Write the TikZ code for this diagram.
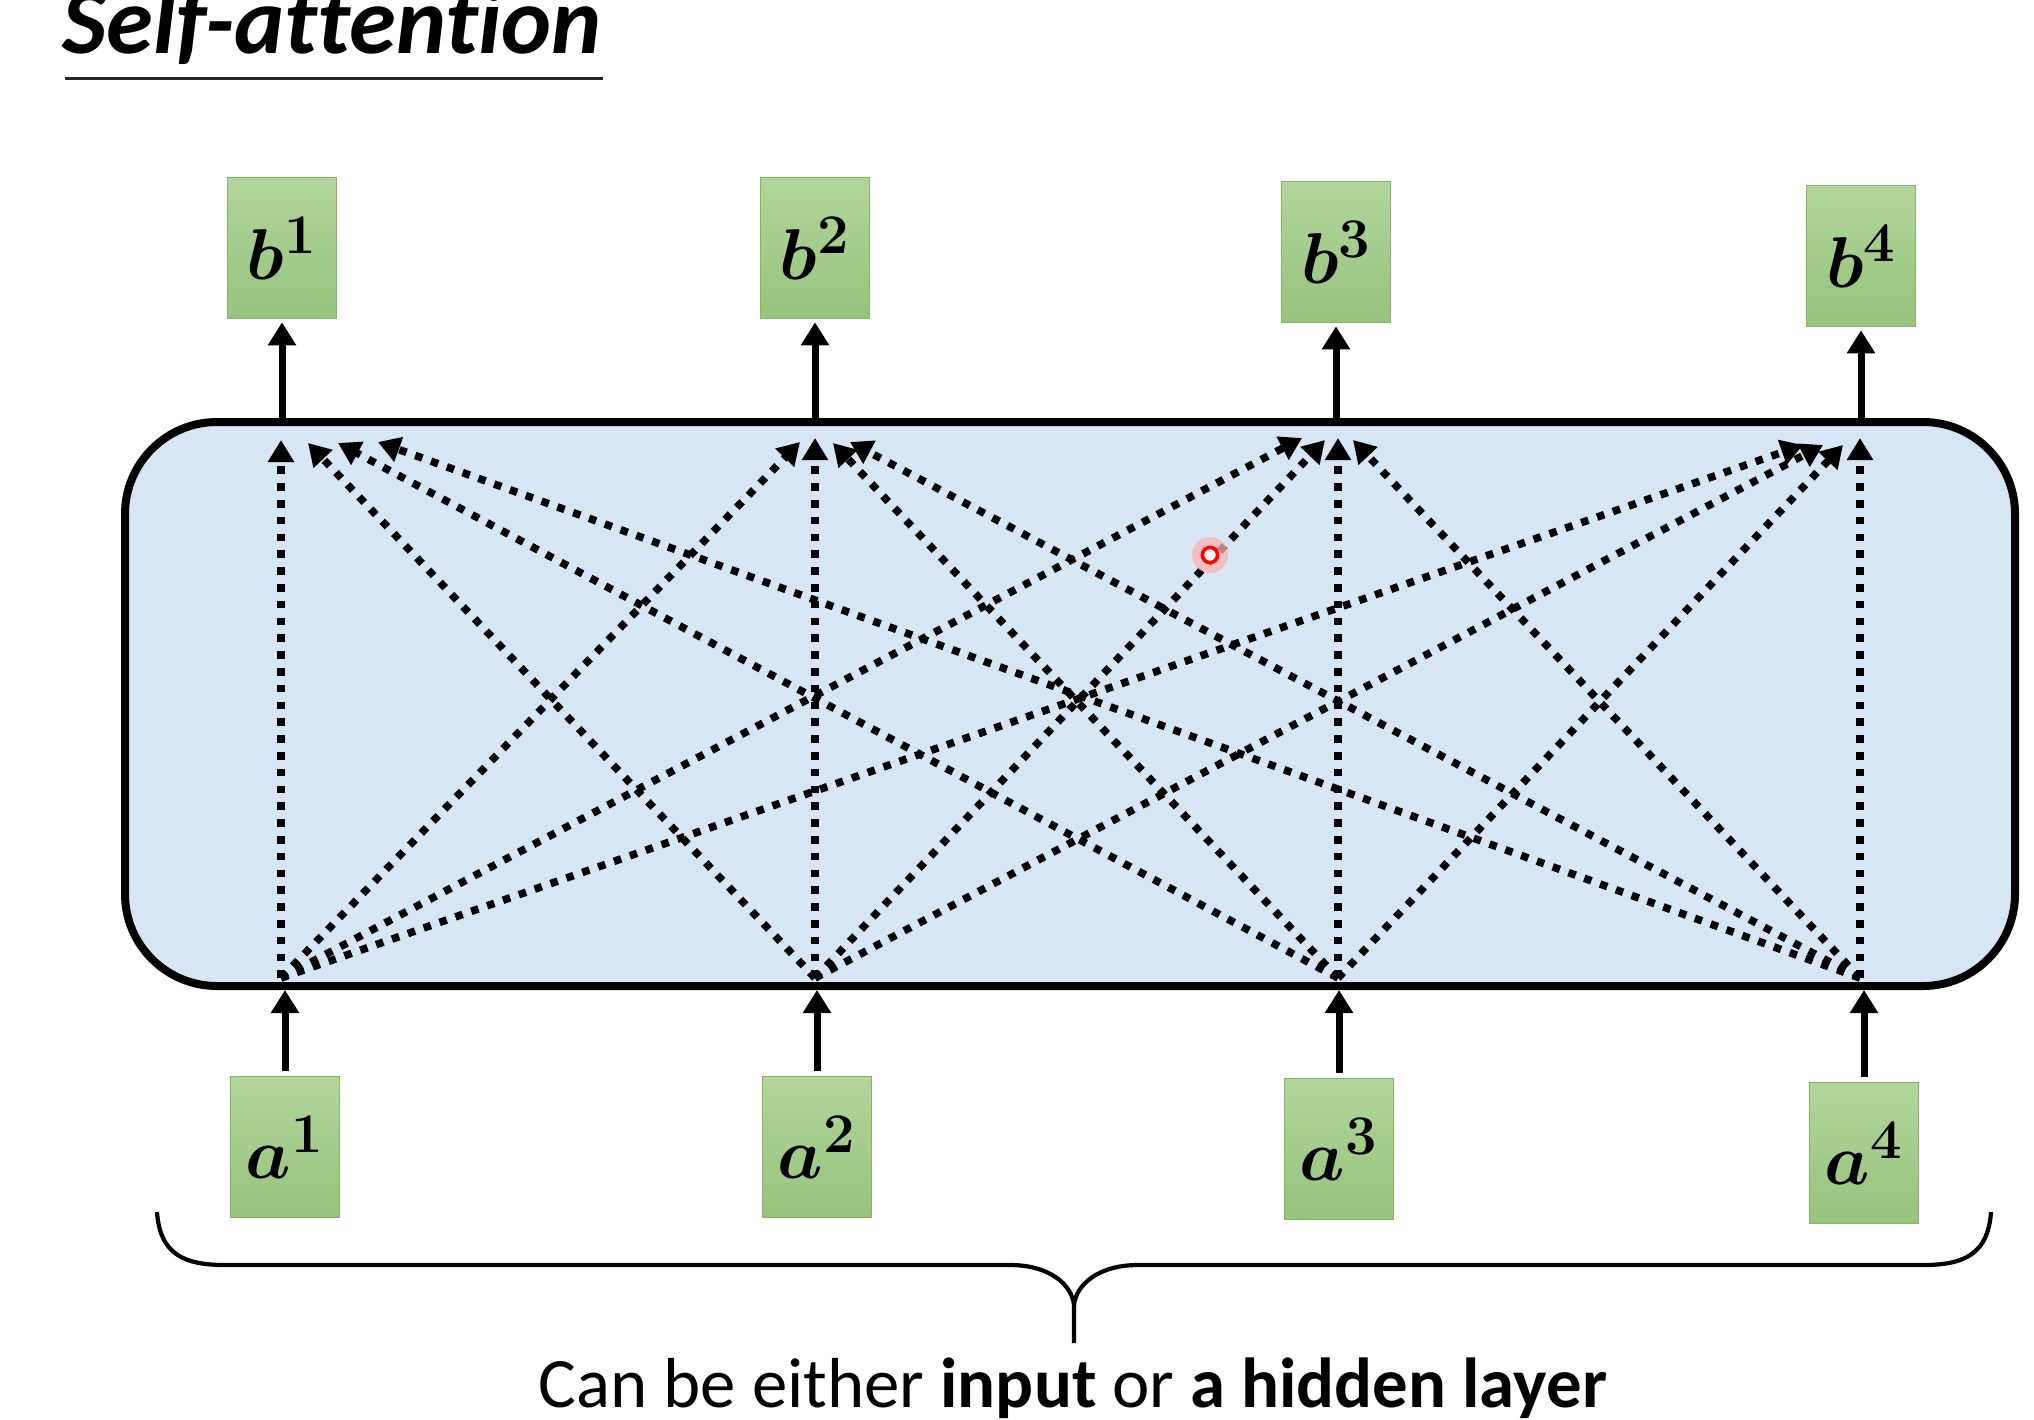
\RequirePackage{fix-cm}
\documentclass[tikz,border=0pt]{standalone}
\usepackage{fontspec}
\usepackage{amsmath,bm}
\usetikzlibrary{arrows.meta,calc}
\newfontfamily\calibri{Carlito}[Ligatures=NoCommon]
\definecolor{gtop}{RGB}{178,213,155}
\definecolor{gbot}{RGB}{150,195,125}
\definecolor{gborder}{RGB}{130,184,100}
\definecolor{attfill}{RGB}{214,230,245}
\newcommand{\supnum}[1]{\text{\fontsize{28}{28}\selectfont\bfseries #1}}
\tikzset{
  vecbox/.style={draw=gborder, line width=0.8pt, top color=gtop, bottom color=gbot,
    minimum width=54.5pt, minimum height=70.5pt, inner sep=0pt,
    font=\fontsize{36}{40}\selectfont},
  attbox/.style={draw=black, line width=4pt, fill=attfill, rounded corners=46pt,
    minimum width=945pt, minimum height=282pt, inner sep=0pt},
  solidarr/.style={line width=3.5pt, -{Triangle[length=11.5pt,width=13.5pt]}},
  dotarr/.style={line width=3.8pt, dash pattern=on 3.8pt off 4.6pt,
    -{Triangle[length=11pt,width=12.5pt]}},
  uline/.style={line width=1.5pt, black!85},
  bracestyle/.style={line width=2.1pt, line join=round}
}
\begin{document}
\begin{tikzpicture}[x=0.5pt, y=-0.5pt]
\useasboundingbox (0,0) rectangle (2034,1419);
\fill[white] (0,0) rectangle (2034,1419);

% title
\node[anchor=base west, inner sep=0pt, font=\calibri\bfseries\itshape\fontsize{47.5}{52}\selectfont] (title) at (62,53) {Self-attention};
\draw[uline] (65,78) -- (603,78);

% attention layer
\node[attbox] (att) at (1070,704) {};

% outputs
\node[vecbox] (b1) at (282,248) {$\bm{b}^{\supnum{1}}$};
\node[vecbox] (b2) at (815,248) {$\bm{b}^{\supnum{2}}$};
\node[vecbox] (b3) at (1336,252) {$\bm{b}^{\supnum{3}}$};
\node[vecbox] (b4) at (1861,256) {$\bm{b}^{\supnum{4}}$};

% inputs
\node[vecbox] (a1) at (285,1147) {$\bm{a}^{\supnum{1}}$};
\node[vecbox] (a2) at (817,1147) {$\bm{a}^{\supnum{2}}$};
\node[vecbox] (a3) at (1339,1149) {$\bm{a}^{\supnum{3}}$};
\node[vecbox] (a4) at (1864,1153) {$\bm{a}^{\supnum{4}}$};

% solid arrows
\foreach \i in {1,2,3,4}{
  \draw[solidarr, shorten >=1.5pt] (b\i.south |- att.north) -- (b\i.south);
  \draw[solidarr, shorten <=2.5pt] (a\i.north) -- (a\i.north |- att.south);
}

% dotted attention connections
\coordinate (s1) at (281,978);
\coordinate (s2) at (815,978);
\coordinate (s3) at (1338,978);
\coordinate (s4) at (1860,978);

\coordinate (t11) at (281,440);  \coordinate (t21) at (308,443);
\coordinate (t31) at (338,443);  \coordinate (t41) at (378,442);
\coordinate (t12) at (800,442);  \coordinate (t22) at (815,438);
\coordinate (t32) at (833,443);  \coordinate (t42) at (850,442);
\coordinate (t13) at (1302,438); \coordinate (t23) at (1325,440);
\coordinate (t33) at (1338,438); \coordinate (t43) at (1353,440);
\coordinate (t14) at (1803,445); \coordinate (t24) at (1823,445);
\coordinate (t34) at (1843,445); \coordinate (t44) at (1860,438);

\foreach \i in {1,2,3,4}{
  \foreach \j in {1,2,3,4}{
    \draw[dotarr] (s\i) -- (t\i\j);
  }
}

% pointer artifact
\fill[red!30, opacity=0.75] (1210,555) circle[radius=9pt];
\draw[red, line width=1.8pt, fill=white] (1210,555) circle[radius=3.8pt];

% brace
\draw[bracestyle] (157,1212) .. controls (160,1255) and (185,1265) .. (225,1265)
  -- (1010,1265) .. controls (1050,1265) and (1072,1285) .. (1074,1305) -- (1074,1343);
\draw[bracestyle] (1991,1212) .. controls (1988,1255) and (1963,1265) .. (1923,1265)
  -- (1138,1265) .. controls (1098,1265) and (1076,1285) .. (1074,1305);

% caption
\node[anchor=base, inner sep=0pt, font=\calibri\fontsize{35.4}{40}\selectfont] (cap) at (1073,1407)
  {Can be either \textbf{input} or \textbf{a hidden layer}};
\end{tikzpicture}
\end{document}
